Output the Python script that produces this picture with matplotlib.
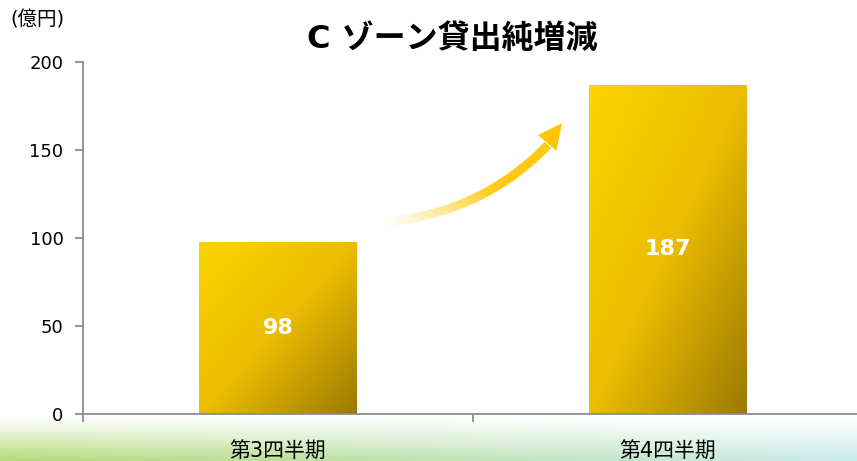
import numpy as np
import matplotlib.pyplot as plt
from matplotlib.colors import LinearSegmentedColormap
from matplotlib.collections import LineCollection
from matplotlib.patches import Polygon

plt.rcParams['font.family'] = ['DejaVu Sans', 'Noto Sans CJK JP']

quarters = ["第3四半期", "第4四半期"]
net_change = [98, 187]
yticks = [0, 50, 100, 150, 200]

fig = plt.figure(figsize=(8.57, 4.61), dpi=100)

# soft green band along the bottom of the slide
bg = fig.add_axes([0, 0, 1, 1], zorder=-10)
bg.axis("off")
h, w = 461, 857
yy, xx = np.mgrid[0:h, 0:w]
fade = np.clip((yy - 414) / 47.0, 0, 1) ** 1.2
side = xx / (w - 1)
left_c = np.array([178, 218, 115]) / 255
right_c = np.array([200, 234, 236]) / 255
tint = left_c[None, None, :] * (1 - side[..., None]) + right_c[None, None, :] * side[..., None]
img = np.ones((h, w, 3)) * (1 - fade[..., None]) + tint * fade[..., None]
bg.imshow(img, extent=[0, 1, 0, 1], aspect="auto", origin="upper")
bg.set_xlim(0, 1)
bg.set_ylim(0, 1)

ax = fig.add_axes([83 / 857, 47 / 461, 780 / 857, 352 / 461])
ax.patch.set_alpha(0)

gold = LinearSegmentedColormap.from_list(
    "gold", [(0, "#fcd400"), (0.5, "#ecbd00"), (1, "#9c7a00")])
# diagonal shading across each bar box, light top-left to dark bottom-right
grad = np.add.outer(np.linspace(0, 1, 100), np.linspace(0, 1, 100)) / 2

x = np.arange(len(quarters))
bars = ax.bar(x, net_change, width=0.405, color="none", edgecolor="none")
for bar, val in zip(bars, net_change):
    x0, y0 = bar.get_x(), bar.get_y()
    bw, bh = bar.get_width(), bar.get_height()
    im = ax.imshow(grad, cmap=gold, extent=[x0, x0 + bw, y0, y0 + bh],
                   origin="upper", aspect="auto", zorder=2)
    im.set_clip_path(bar)
    ax.text(x0 + bw / 2, y0 + bh / 2, str(val), ha="center", va="center",
            color="white", fontsize=16, fontweight="bold", zorder=3)

# rising arrow between the two quarters
p0 = np.array([0.2615, 109.0])
p1 = np.array([0.518, 113.0])
p2 = np.array([0.692, 152.8])
t = np.linspace(0, 1, 80)[:, None]
curve = (1 - t) ** 2 * p0 + 2 * (1 - t) * t * p1 + t ** 2 * p2
segs = np.stack([curve[:-1], curve[1:]], axis=1)
alpha = np.clip(np.linspace(0, 1, len(segs)) / 0.65, 0, 1) ** 1.3
cols = np.zeros((len(segs), 4))
cols[:, :3] = np.array([255, 198, 0]) / 255
cols[:, 3] = alpha
ax.add_collection(LineCollection(segs, colors=cols, linewidths=6.5, capstyle="butt", zorder=2))
ax.add_patch(Polygon([[0.7285, 165.3], [0.6667, 158.5], [0.7137, 149.5]],
                     closed=True, color="#ffc600", lw=0, zorder=2))

ax.set_xlim(-0.5, 1.5)
ax.set_ylim(0, 200)
ax.set_yticks(yticks)
ax.tick_params(axis="y", length=6, width=1.3, color="#8c8c8c", labelsize=13, pad=8)
ax.set_xticks([-0.5, 0.5, 1.5])
ax.set_xticklabels([])
ax.set_xticks(x, minor=True)
ax.set_xticklabels(quarters, minor=True)
ax.tick_params(axis="x", which="major", length=6, width=1.3, color="#8c8c8c")
ax.tick_params(axis="x", which="minor", length=0, labelsize=15, pad=20)
for s in ["top", "right"]:
    ax.spines[s].set_visible(False)
for s in ["left", "bottom"]:
    ax.spines[s].set_color("#8c8c8c")
    ax.spines[s].set_linewidth(1.3)

fig.text(452 / 857, 1 - 39 / 461, "C ゾーン貸出純増減", ha="center", va="center",
         fontsize=23, fontweight="bold")
fig.text(10 / 857, 1 - 20 / 461, "(億円)", ha="left", va="center", fontsize=14)

fig.savefig("out.png", dpi=100)
